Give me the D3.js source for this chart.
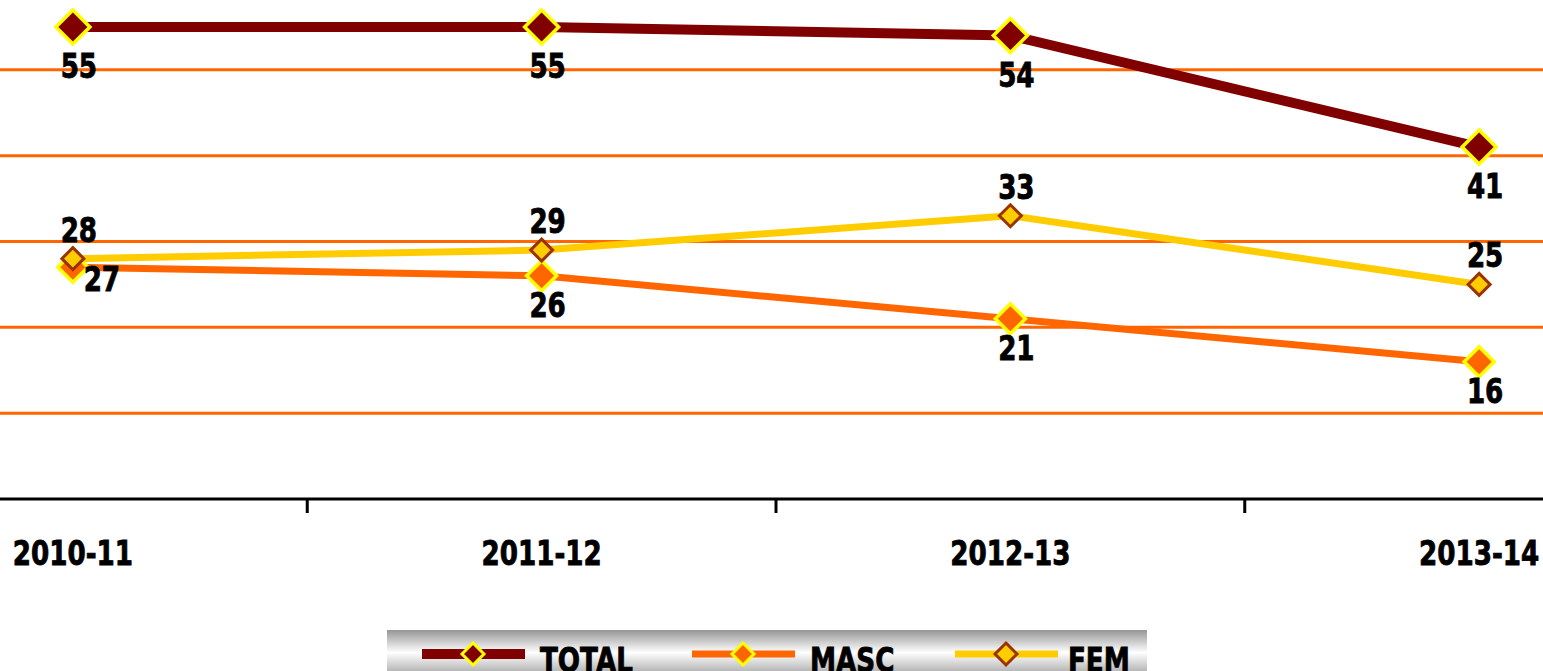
<!DOCTYPE html>
<html><head><meta charset="utf-8">
<script src="https://cdn.jsdelivr.net/npm/d3@7"></script>
<style>
html,body{margin:0;padding:0;background:#fff;overflow:hidden;}
text{font-family:"DejaVu Sans",sans-serif;font-weight:bold;}
</style></head>
<body>
<svg id="c" width="1543" height="671"></svg>
<script>
const categories = ["2010-11","2011-12","2012-13","2013-14"];
const totalValues = [55,55,54,41];
const mascValues = [27,26,21,16];
const femValues = [28,29,33,25];
const gridTicks = [10,20,30,40,50];
const seriesNames = ["TOTAL","MASC","FEM"];

const W=1543,H=671;
const SX=0.77, FS=34;
const svg=d3.select("#c");
const x=d3.scaleBand().domain(categories).range([-161.5,1713.5]).paddingInner(0).paddingOuter(0);
const cx=d=>x(d)+x.bandwidth()/2;
const y=d3.scaleLinear().domain([0,60]).range([499,-16]);

function ctext(sel,px,py,txt,anchor){
 const g=sel.append("g").attr("transform",`translate(${px},${py}) scale(${SX},1)`);
 g.append("text").attr("text-anchor",anchor||"middle").attr("font-size",FS).attr("fill","#000")
  .attr("stroke","#000").attr("stroke-width",0.9).text(txt);
 return g;
}

const series=[
 {name:seriesNames[0],vals:totalValues,color:"#800000",width:10,mfill:"#800000",mstroke:"#FFFF00",r:17,msw:3.5,lby:51},
 {name:seriesNames[1],vals:mascValues,color:"#FF6600",width:7,mfill:"#FF6600",mstroke:"#FFFF00",r:15,msw:3.5,lby:41},
 {name:seriesNames[2],vals:femValues,color:"#FFCC00",width:7,mfill:"#FFCC00",mstroke:"#993300",r:11,msw:3,lby:-17}
];

// gridlines
svg.append("g").selectAll("line").data(gridTicks).join("line")
 .attr("x1",0).attr("x2",W).attr("y1",d=>y(d)).attr("y2",d=>y(d))
 .attr("stroke","#FF6600").attr("stroke-width",3);

// axis
const ag=svg.append("g").attr("transform",`translate(0,${y(0)})`);
ag.append("line").attr("x1",0).attr("x2",W).attr("stroke","#000").attr("stroke-width",3);
ag.selectAll("line.tk").data(categories.slice(1)).join("line").attr("class","tk")
 .attr("x1",d=>x(d)).attr("x2",d=>x(d)).attr("y1",0).attr("y2",14).attr("stroke","#000").attr("stroke-width",3);
categories.forEach(c=>ctext(ag,cx(c),66,c));

const line=d3.line().x(d=>cx(d.c)).y(d=>y(d.v));
const diamond=(r)=>`M0,${-r}L${r},0L0,${r}L${-r},0Z`;

series.forEach(s=>{
 const pts=categories.map((c,i)=>({c,v:s.vals[i]}));
 svg.append("path").datum(pts).attr("d",line).attr("fill","none")
  .attr("stroke",s.color).attr("stroke-width",s.width).attr("stroke-linejoin","round");
});
series.forEach(s=>{
 const pts=categories.map((c,i)=>({c,v:s.vals[i]}));
 svg.append("g").selectAll("path").data(pts).join("path")
  .attr("transform",d=>`translate(${cx(d.c)},${y(d.v)})`)
  .attr("d",diamond(s.r)).attr("fill",s.mfill).attr("stroke",s.mstroke).attr("stroke-width",s.msw);
});
const labG=svg.append("g");
series.forEach(s=>{
 categories.forEach((c,i)=>{
  const special=(s.name==="MASC"&&i===0);
  ctext(labG,cx(c)+(special?29:6),y(s.vals[i])+(special?24:s.lby),String(s.vals[i]));
 });
});

// legend
const defs=svg.append("defs");
const g=defs.append("linearGradient").attr("id","lg").attr("x1",0).attr("x2",0).attr("y1",0).attr("y2",1);
g.append("stop").attr("offset","0%").attr("stop-color","#959595");
g.append("stop").attr("offset","45%").attr("stop-color","#ffffff");
g.append("stop").attr("offset","100%").attr("stop-color","#959595");
const lg=svg.append("g");
lg.append("rect").attr("x",387).attr("y",630).attr("width",760).attr("height",50).attr("fill","url(#lg)");
const legX=[422,692,955];
const legTX=[540,810,1068];
series.forEach((s,i)=>{
 lg.append("line").attr("x1",legX[i]).attr("x2",legX[i]+103).attr("y1",654).attr("y2",654)
  .attr("stroke",s.color).attr("stroke-width",s.width);
 lg.append("path").attr("transform",`translate(${legX[i]+51},654)`)
  .attr("d",diamond(11)).attr("fill",s.mfill).attr("stroke",s.mstroke).attr("stroke-width",3);
 ctext(lg,legTX[i],672,s.name,"start");
});
</script>
</body></html>
